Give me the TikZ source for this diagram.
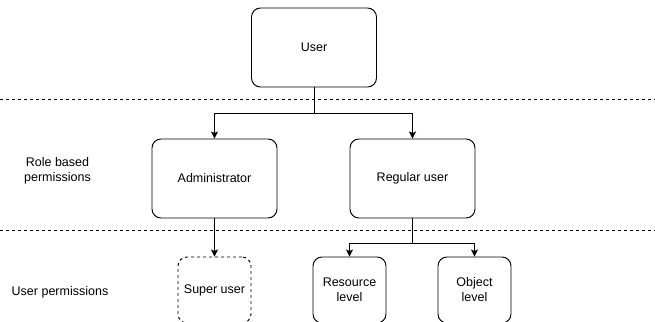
\documentclass[tikz,border=0pt]{standalone}
\usepackage{fontspec}
\setmainfont{Liberation Sans}
\usetikzlibrary{arrows.meta}

\begin{document}
\begin{tikzpicture}[x=1pt, y=-1pt, line width=0.95pt,
  every node/.style={font=\fontsize{12.5}{15}\selectfont},
  rolebox/.style={draw, rounded corners=9pt, minimum width=125pt, minimum height=79pt, inner sep=0pt},
  permbox/.style={draw, rounded corners=9pt, minimum width=73pt, minimum height=66pt, inner sep=0pt, align=center},
  layerline/.style={dash pattern=on 3pt off 3pt, line width=0.9pt},
  >={Stealth[length=7pt, width=7pt, inset=1.5pt]}]

\useasboundingbox (0,0) rectangle (655,321);

% layers
\draw [layerline] (0,99) -- (655,99);
\draw [layerline] (0,230) -- (655,230);

\node [rolebox] (user) at (314,47.5) {User};
\node [rolebox] (admin) at (214.5,178.5) {Administrator};
\node [rolebox] (regular) at (412.5,178.5) {Regular user};

\node [permbox, dash pattern=on 3pt off 3pt] (super) at (214.5,290) {Super user};
\node [permbox] (resource) at (349.5,290) {Resource\\level};
\node [permbox] (object) at (474.5,290) {Object\\level};

\node [align=center] (rolelabel) at (57.5,171) {Role based\\permissions};
\node (userlabel) at (60,292) {User permissions};

\coordinate (usersplit) at (314,113);
\coordinate (regsplit) at (412.5,243);

\begin{scope}[->]
\draw (user.south) -- (usersplit) -| (admin.north);
\draw (usersplit) -| (regular.north);
\draw (admin.south) -- (super.north);
\draw (regular.south) -- (regsplit) -| (resource.north);
\draw (regsplit) -| (object.north);
\end{scope}

\end{tikzpicture}
\end{document}
